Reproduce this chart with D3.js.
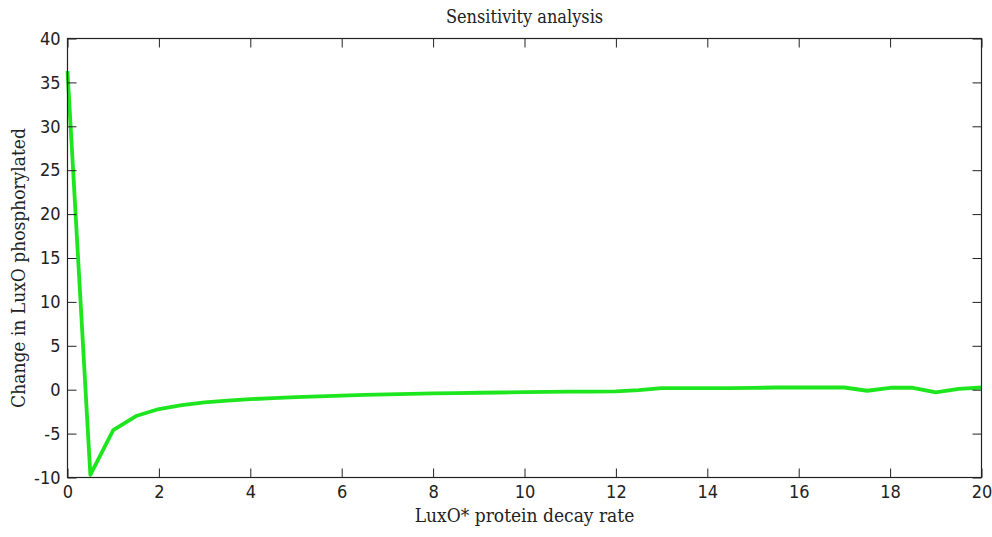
<!DOCTYPE html>
<html><head><meta charset="utf-8">
<script src="https://cdn.jsdelivr.net/npm/d3@7"></script>
<style>body{margin:0;background:#fff}</style>
</head><body><svg id="c" width="992" height="537"></svg>
<script>
const xValues = [0,0.5,1,1.5,2,2.5,3,3.5,4,4.5,5,5.5,6,6.5,7,7.5,8,8.5,9,9.5,10,10.5,11,11.5,12,12.5,13,13.5,14,14.5,15,15.5,16,16.5,17,17.5,18,18.5,19,19.5,20];
const yValues = [36.3,-9.7,-4.6,-3.0,-2.2,-1.75,-1.45,-1.25,-1.08,-0.95,-0.85,-0.75,-0.67,-0.6,-0.53,-0.47,-0.42,-0.38,-0.35,-0.32,-0.28,-0.25,-0.22,-0.21,-0.2,-0.05,0.18,0.18,0.18,0.18,0.2,0.25,0.25,0.25,0.25,-0.12,0.22,0.22,-0.3,0.1,0.25];
const xTicks = [0,2,4,6,8,10,12,14,16,18,20];
const yTicks = [-10,-5,0,5,10,15,20,25,30,35,40];
const titleText = "Sensitivity analysis";
const xLabel = "LuxO* protein decay rate";
const yLabel = "Change in LuxO phosphorylated";

const svg = d3.select("#c");
const L = 67.5, R = 981.5, T = 38.5, B = 477.5;
const x = d3.scaleLinear().domain([0,20]).range([L,R]);
const y = d3.scaleLinear().domain([-10,40]).range([B,T]);
const tickFont = "'DejaVu Sans Condensed', 'DejaVu Sans', sans-serif";
const serif = "'DejaVu Serif Condensed', 'DejaVu Serif', serif";
const tl = 9;
const fmt = d => String(d);

const data = xValues.map((d,i)=>[d,yValues[i]]);
svg.append("path").datum(data)
  .attr("fill","none").attr("stroke","#1ee61e").attr("stroke-width",3.8)
  .attr("stroke-linejoin","round")
  .attr("d", d3.line().x(d=>x(d[0])).y(d=>y(d[1])));

function styleAxis(g){
  g.select(".domain").remove();
  g.selectAll("line").attr("stroke","#222");
  g.selectAll("text").attr("font-family",tickFont).attr("font-size",18).attr("fill","#222");
}
svg.append("g").attr("transform",`translate(0,${B})`)
  .call(d3.axisBottom(x).tickValues(xTicks).tickSize(-tl).tickPadding(8).tickFormat(fmt))
  .call(styleAxis);
svg.append("g").attr("transform",`translate(0,${T})`)
  .call(d3.axisTop(x).tickValues(xTicks).tickSize(-tl).tickFormat(""))
  .call(styleAxis);
svg.append("g").attr("transform",`translate(${L},0)`)
  .call(d3.axisLeft(y).tickValues(yTicks).tickSize(-tl).tickPadding(7).tickFormat(fmt))
  .call(styleAxis);
svg.append("g").attr("transform",`translate(${R},0)`)
  .call(d3.axisRight(y).tickValues(yTicks).tickSize(-tl).tickFormat(""))
  .call(styleAxis);

svg.append("rect").attr("x",L).attr("y",T).attr("width",R-L).attr("height",B-T)
  .attr("fill","none").attr("stroke","#222").attr("stroke-width",1.2);

svg.append("text").attr("x",(L+R)/2).attr("y",23).attr("text-anchor","middle")
  .attr("font-family",serif).attr("font-size",18).attr("fill","#222").text(titleText);
svg.append("text").attr("x",(L+R)/2).attr("y",522).attr("text-anchor","middle")
  .attr("font-family",serif).attr("font-size",19).attr("fill","#222").text(xLabel);
svg.append("text").attr("transform",`translate(25,268) rotate(-90)`).attr("text-anchor","middle")
  .attr("font-family",serif).attr("font-size",19).attr("fill","#222").text(yLabel);
</script></body></html>
